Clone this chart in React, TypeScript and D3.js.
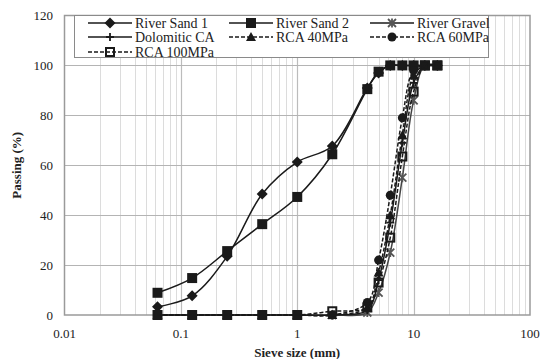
import { useEffect, useRef } from 'react';
import * as d3 from 'd3';

const sieves = [0.063, 0.125, 0.25, 0.5, 1, 2, 4, 5, 6.3, 8, 10, 12.5, 16];

const riverSand1 = [3.3, 7.7, 23.5, 48.5, 61.3, 67.7, 91, 97, 100, 100, 100, 100, 100];
const riverSand2 = [8.9, 14.8, 25.6, 36.4, 47.3, 64.4, 90.5, 97.5, 100, 100, 100, 100, 100];
const riverGravel = [0, 0, 0, 0, 0, 0, 1, 9, 25, 55, 86, 100, 100];
const dolomiticCA = [0, 0, 0, 0, 0, 0, 2, 14, 37, 69, 93, 100, 100];
const rca40 = [0, 0, 0, 0, 0, 0, 3, 17, 40, 72, 96, 100, 100];
const rca60 = [0, 0, 0, 0, 0, 0, 5, 22, 48, 79, 98, 100, 100];
const rca100 = [0, 0, 0, 0, 0, 1.5, 3, 13, 31, 63.5, 89.5, 100, 100];

const seriesNames = ['River Sand 1', 'River Sand 2', 'River Gravel', 'Dolomitic CA', 'RCA 40MPa', 'RCA 60MPa', 'RCA 100MPa'];
const xTicks = [0.01, 0.1, 1, 10, 100];
const yTicks = [0, 20, 40, 60, 80, 100, 120];

type Marker = 'diamond' | 'square' | 'star' | 'plus' | 'triangle' | 'circle' | 'openSquare';

const seriesList: { name: string; values: number[]; marker: Marker; dashed: boolean }[] = [
  { name: seriesNames[0], values: riverSand1, marker: 'diamond', dashed: false },
  { name: seriesNames[1], values: riverSand2, marker: 'square', dashed: false },
  { name: seriesNames[2], values: riverGravel, marker: 'star', dashed: false },
  { name: seriesNames[3], values: dolomiticCA, marker: 'plus', dashed: false },
  { name: seriesNames[4], values: rca40, marker: 'triangle', dashed: true },
  { name: seriesNames[5], values: rca60, marker: 'circle', dashed: true },
  { name: seriesNames[6], values: rca100, marker: 'openSquare', dashed: true },
];

const FONT = 'Liberation Serif';

function drawMarker(g: d3.Selection<SVGGElement, unknown, null, undefined>, type: Marker, x: number, y: number) {
  const m = g.append('g').attr('transform', `translate(${x},${y})`);
  if (type === 'diamond') {
    m.append('path').attr('d', 'M0,-5.5L5.5,0L0,5.5L-5.5,0Z').attr('fill', '#1a1a1a');
  } else if (type === 'square') {
    m.append('rect').attr('x', -5).attr('y', -5).attr('width', 10).attr('height', 10).attr('fill', '#1a1a1a');
  } else if (type === 'openSquare') {
    // no fill, like the spreadsheet marker: lines and markers below show through
    m.append('rect').attr('x', -4).attr('y', -4).attr('width', 8).attr('height', 8)
      .attr('fill', 'none').attr('stroke', '#1a1a1a').attr('stroke-width', 2);
  } else if (type === 'triangle') {
    m.append('path').attr('d', 'M0,-5L5,4L-5,4Z').attr('fill', '#1a1a1a');
  } else if (type === 'circle') {
    m.append('circle').attr('r', 4.5).attr('fill', '#1a1a1a');
  } else if (type === 'plus') {
    m.append('path').attr('d', 'M-4,0L4,0M0,-4L0,4').attr('stroke', '#1a1a1a').attr('stroke-width', 1.8);
  } else {
    m.append('path').attr('d', 'M-4,-4L4,4M-4,4L4,-4M0,-4.5L0,4.5').attr('stroke', '#555').attr('stroke-width', 1.8);
  }
}

const Chart = () => {
  const svgRef = useRef<SVGSVGElement>(null);

  useEffect(() => {
    if (!svgRef.current) return;
    const svg = d3.select(svgRef.current);
    svg.selectAll('*').remove();

    const left = 64.5;
    const right = 530;
    const top = 15.5;
    const bottom = 315;

    const x = d3.scaleLog().domain([0.01, 100]).range([left, right]);
    const y = d3.scaleLinear().domain([0, 120]).range([bottom, top]);

    svg.append('rect').attr('x', 0).attr('y', 0).attr('width', 544).attr('height', 359).attr('fill', 'white');

    // minor vertical grid
    const minors: number[] = [];
    [0.01, 0.1, 1, 10].forEach((d) => {
      for (let k = 2; k <= 9; k++) minors.push(d * k);
    });
    svg.append('g').selectAll('line').data(minors).join('line')
      .attr('x1', (d) => Math.round(x(d)) + 0.5).attr('x2', (d) => Math.round(x(d)) + 0.5)
      .attr('y1', top).attr('y2', bottom)
      .attr('stroke', '#dcdcdc').attr('stroke-width', 1);

    // major vertical grid
    svg.append('g').selectAll('line').data(xTicks.slice(1, -1)).join('line')
      .attr('x1', (d) => Math.round(x(d)) + 0.5).attr('x2', (d) => Math.round(x(d)) + 0.5)
      .attr('y1', top).attr('y2', bottom)
      .attr('stroke', '#bcbcbc').attr('stroke-width', 1.2);

    // horizontal grid
    svg.append('g').selectAll('line').data(yTicks.slice(1, -1)).join('line')
      .attr('x1', left).attr('x2', right)
      .attr('y1', (d) => Math.round(y(d)) + 0.5).attr('y2', (d) => Math.round(y(d)) + 0.5)
      .attr('stroke', '#b4b4b4').attr('stroke-width', 1.2);

    // frame
    svg.append('rect').attr('x', left).attr('y', top).attr('width', right - left).attr('height', bottom - top)
      .attr('fill', 'none').attr('stroke', '#9a9a9a').attr('stroke-width', 1.5);

    // tick labels
    svg.append('g').selectAll('text').data(xTicks).join('text')
      .attr('x', (d) => x(d)).attr('y', 333)
      .attr('text-anchor', 'middle').attr('dy', '0.35em')
      .style('font-family', FONT).attr('font-size', 13).attr('fill', '#222')
      .text((d) => String(d));

    svg.append('g').selectAll('text').data(yTicks).join('text')
      .attr('x', 53).attr('y', (d) => y(d))
      .attr('text-anchor', 'end').attr('dy', '0.35em')
      .style('font-family', FONT).attr('font-size', 13).attr('fill', '#222')
      .text((d) => String(d));

    // axis titles
    svg.append('text')
      .attr('x', x(1)).attr('y', 352).attr('dy', '0.35em')
      .attr('text-anchor', 'middle')
      .style('font-family', FONT).attr('font-size', 13).attr('font-weight', 'bold').attr('fill', '#222')
      .text('Sieve size (mm)');

    svg.append('text')
      .attr('transform', `translate(16,${(top + bottom) / 2}) rotate(-90)`)
      .attr('dy', '0.35em')
      .attr('text-anchor', 'middle')
      .style('font-family', FONT).attr('font-size', 13).attr('font-weight', 'bold').attr('fill', '#222')
      .text('Passing (%)');

    // series
    const line = d3.line<number>()
      .x((_, i) => x(sieves[i]))
      .y((d) => y(d))
      .curve(d3.curveCatmullRom.alpha(0.5));

    const plot = svg.append('g');
    seriesList.forEach((s) => {
      plot.append('path')
        .attr('d', line(s.values))
        .attr('fill', 'none')
        .attr('stroke', s.marker === 'star' ? '#444' : '#1a1a1a')
        .attr('stroke-width', 1.5)
        .attr('stroke-dasharray', s.dashed ? '4,2' : null);
      const mg = plot.append('g');
      s.values.forEach((v, i) => drawMarker(mg, s.marker, x(sieves[i]), y(v)));
    });

    // legend
    const legend = svg.append('g');
    legend.append('rect').attr('x', 74.5).attr('y', top).attr('width', 414).attr('height', 42)
      .attr('fill', 'white').attr('stroke', '#8a8a8a').attr('stroke-width', 1);

    const cols = [88, 229, 370];
    const rows = [23, 37, 52];
    seriesList.forEach((s, i) => {
      const cx = cols[i % 3];
      const cy = rows[Math.floor(i / 3)];
      const row = legend.append('g');
      row.append('line')
        .attr('x1', cx).attr('x2', cx + 44).attr('y1', cy).attr('y2', cy)
        .attr('stroke', '#1a1a1a').attr('stroke-width', 1.5)
        .attr('stroke-dasharray', s.dashed ? '4,2' : null);
      drawMarker(row, s.marker, cx + 22, cy);
      row.append('text')
        .attr('x', cx + 47).attr('y', cy).attr('dy', '0.35em')
        .style('font-family', FONT).attr('font-size', 14).attr('fill', '#222')
        .text(s.name);
    });
  }, []);

  return <svg ref={svgRef} width={544} height={359} style={{ position: 'absolute', left: 0, top: 0 }} />;
};

export default function App() {
  return <Chart />;
}
